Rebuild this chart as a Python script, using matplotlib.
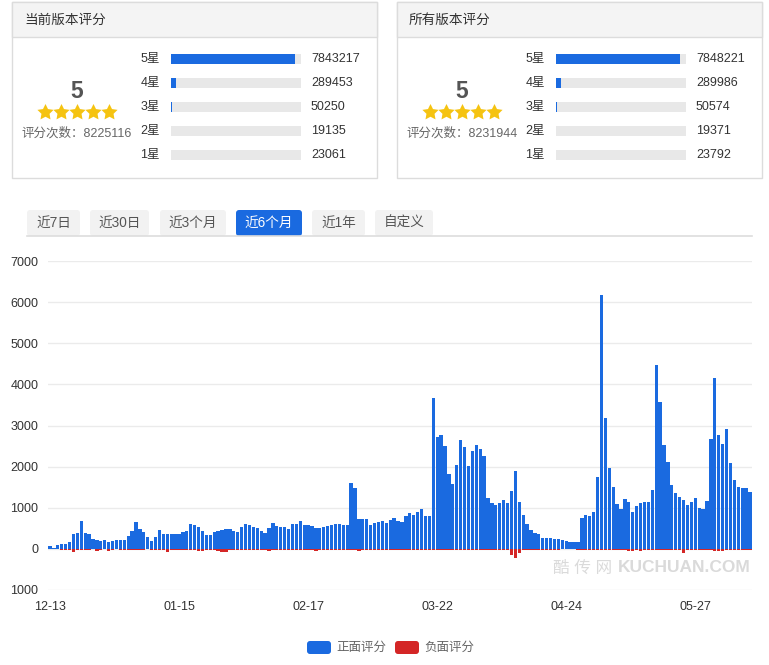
import numpy as np
import matplotlib
matplotlib.use("Agg")
import matplotlib.pyplot as plt
from matplotlib.patches import Rectangle, FancyBboxPatch

plt.rcParams['font.family'] = ['Liberation Sans', 'Noto Sans CJK SC', 'DejaVu Sans']

# ---------------- data ----------------
panel_titles = ['当前版本评分', '所有版本评分']
panel_scores = [5, 5]
panel_totals = [8225116, 8231944]
star_labels = ['5星', '4星', '3星', '2星', '1星']
current_counts = [7843217, 289453, 50250, 19135, 23061]
all_counts = [7848221, 289986, 50574, 19371, 23792]

tabs = ['近7日', '近30日', '近3个月', '近6个月', '近1年', '自定义']
active_tab = '近6个月'

positive = [60, 30, 105, 130, 130, 170, 366, 390, 683, 390,
            366, 244, 220, 187, 220, 170, 187, 220, 220, 220,
            317, 440, 660, 490, 415, 293, 195, 293, 463, 366,
            350, 366, 366, 366, 415, 440, 610, 585, 537, 440,
            341, 341, 415, 440, 463, 488, 488, 440, 415, 537,
            610, 585, 537, 512, 440, 390, 512, 634, 561, 537,
            537, 488, 610, 610, 683, 585, 585, 561, 512, 512,
            537, 561, 585, 610, 610, 585, 585, 1610, 1488, 732,
            732, 732, 585, 634, 659, 683, 634, 707, 756, 683,
            659, 805, 878, 829, 902, 976, 805, 805, 3659, 2732,
            2780, 2512, 1829, 1585, 2049, 2659, 2488, 2024, 2390, 2537,
            2439, 2268, 1244, 1122, 1073, 1122, 1195, 1122, 1415, 1902,
            1146, 829, 610, 463, 390, 366, 268, 268, 268, 244,
            244, 210, 185, 170, 170, 170, 755, 825, 800, 900,
            1755, 6170, 3190, 1970, 1505, 1090, 970, 1210, 1140, 895,
            1040, 1115, 1140, 1140, 1435, 4463, 3580, 2530, 2120, 1555,
            1360, 1265, 1190, 1070, 1140, 1240, 995, 970, 1165, 2680,
            4165, 2775, 2555, 2925, 2095, 1680, 1510, 1485, 1485, 1385]

negative = [-10, -10, -15, -20, -20, -20, -70, -25, -20, -20,
            -20, -15, -40, -20, -15, -40, -20, -15, -20, -20,
            -20, -20, -25, -20, -20, -15, -20, -20, -20, -20,
            -70, -20, -20, -20, -25, -20, -20, -20, -45, -45,
            -20, -20, -20, -45, -70, -70, -20, -20, -20, -20,
            -20, -20, -25, -20, -20, -20, -45, -20, -20, -20,
            -20, -20, -20, -20, -25, -20, -20, -20, -40, -20,
            -20, -20, -30, -20, -20, -25, -20, -20, -20, -45,
            -25, -20, -20, -30, -20, -20, -20, -30, -20, -20,
            -20, -30, -20, -20, -25, -20, -20, -20, -25, -20,
            -20, -20, -20, -25, -20, -20, -20, -30, -20, -20,
            -20, -20, -25, -20, -20, -20, -20, -25, -160, -220,
            -100, -30, -20, -20, -30, -20, -20, -20, -20, -20,
            -20, -15, -15, -15, -15, -20, -20, -25, -20, -20,
            -30, -30, -25, -20, -20, -20, -20, -30, -40, -40,
            -25, -40, -25, -20, -20, -30, -20, -20, -20, -20,
            -20, -20, -100, -25, -30, -20, -20, -20, -30, -30,
            -40, -60, -60, -30, -25, -25, -20, -30, -20, -20]

xtick_pos = [0, 33, 66, 99, 132, 165]
xtick_labels = ['12-13', '01-15', '02-17', '03-22', '04-24', '05-27']
ytick_vals = [-1000, 0, 1000, 2000, 3000, 4000, 5000, 6000, 7000]
ytick_labels = ['1000', '0', '1000', '2000', '3000', '4000', '5000', '6000', '7000']
legend_labels = ['正面评分', '负面评分']

BLUE = '#1a6ae0'
RED = '#d42626'
TRACK = '#e8e8e8'

W, H = 769, 665
fig = plt.figure(figsize=(W / 100, H / 100), dpi=100)


def rect(x0, y0, x1, y1):
    return [x0 / W, 1 - y1 / H, (x1 - x0) / W, (y1 - y0) / H]


bg = fig.add_axes([0, 0, 1, 1])
bg.set_xlim(0, W)
bg.set_ylim(H, 0)
bg.axis('off')

# ---------------- rating panels ----------------
for p, (title, score, total, counts) in enumerate(
        zip(panel_titles, panel_scores, panel_totals, [current_counts, all_counts])):
    ox = 385 * p
    bg.add_patch(Rectangle((12 + ox, 2), 365, 176, facecolor='white', edgecolor='#dcdcdc', lw=1, zorder=1))
    bg.add_patch(Rectangle((12 + ox, 2), 365, 35, facecolor='#f4f4f4', edgecolor='#dcdcdc', lw=1, zorder=2))
    bg.text(24 + ox, 20, title, fontsize=9.8, color='#333333', va='center', ha='left', zorder=3)
    bg.text(77 + ox, 91, str(score), fontsize=16.5, fontweight='bold', color='#555555',
            ha='center', va='center', zorder=3)
    n = int(round(score))
    sx = np.arange(n) * 16 + 45 + ox
    bg.scatter(sx, [112] * n, marker=(5, 1, 0), s=150, color='#f5c311', zorder=3, linewidths=0)
    bg.text(77 + ox, 133, '评分次数：' + str(total), fontsize=9, color='#666666',
            ha='center', va='center', zorder=3)

    rax = fig.add_axes(rect(171 + ox, 47, 301 + ox, 167))
    ypos = np.arange(len(star_labels))
    frac = np.array(counts) / total
    rax.barh(ypos, [1.0] * len(ypos), height=0.42, color=TRACK, zorder=1)
    rax.barh(ypos, frac, height=0.42, color=BLUE, zorder=2)
    rax.set_xlim(0, 1)
    rax.set_ylim(len(ypos) - 0.5, -0.5)
    rax.axis('off')
    for i, (lab, c) in enumerate(zip(star_labels, counts)):
        rax.text(-0.085, i, lab, ha='right', va='center', fontsize=9, color='#333333',
                 transform=rax.get_yaxis_transform())
        rax.text(1.077, i, str(c), ha='left', va='center', fontsize=9, color='#333333',
                 transform=rax.get_yaxis_transform())

# ---------------- tabs ----------------
tab_x = [(27, 80), (90, 149), (160, 226), (236, 302), (312, 365), (375, 433)]
for (x0, x1), lab in zip(tab_x, tabs):
    active = lab == active_tab
    fc = BLUE if active else '#f2f2f2'
    bg.add_patch(FancyBboxPatch((x0, 210), x1 - x0, 26, boxstyle='round,pad=0,rounding_size=3',
                                facecolor=fc, edgecolor='none', zorder=2))
    bg.text((x0 + x1) / 2, 222.5, lab, fontsize=9.8, color='white' if active else '#555555',
            ha='center', va='center', zorder=3)
bg.plot([27, 752], [235.5, 235.5], color='#dddddd', lw=1.2, zorder=4)

# ---------------- main chart ----------------
ax = fig.add_axes(rect(48, 261, 752, 590))
x = np.arange(len(positive))
ax.bar(x, positive, width=0.84, color=BLUE, zorder=3)
ax.bar(x, negative, width=0.84, color=RED, zorder=3)
ax.set_xlim(-0.5, len(positive) - 0.5)
ax.set_ylim(-1000, 7000)
ax.set_yticks(ytick_vals)
ax.set_yticklabels(ytick_labels)
ax.set_xticks(xtick_pos)
ax.set_xticklabels(xtick_labels)
ax.tick_params(axis='y', length=0, pad=7, labelsize=9, labelcolor='#333333')
ax.tick_params(axis='x', length=0, pad=8, labelsize=9, labelcolor='#333333')
ax.grid(axis='y', color='#ebebeb', lw=1, zorder=0)
for s in ax.spines.values():
    s.set_visible(False)
ax.set_facecolor('none')

# watermark
bg.text(553, 568, '酷 传 网', fontsize=12, color='#dadada', ha='left', va='center', zorder=5)
bg.text(751, 568, 'KUCHUAN.COM', fontsize=12.5, fontweight='bold', color='#dadada',
        ha='right', va='center', zorder=5)

# legend
leg_x = [(307, 336), (395, 424)]
for (rx, tx), lab, col in zip(leg_x, legend_labels, [BLUE, RED]):
    bg.add_patch(FancyBboxPatch((rx, 641), 24, 13, boxstyle='round,pad=0,rounding_size=3',
                                facecolor=col, edgecolor='none', zorder=5))
    bg.text(tx, 647.5, lab, fontsize=9, color='#666666', ha='left', va='center', zorder=5)

fig.savefig('out.png', dpi=100)
